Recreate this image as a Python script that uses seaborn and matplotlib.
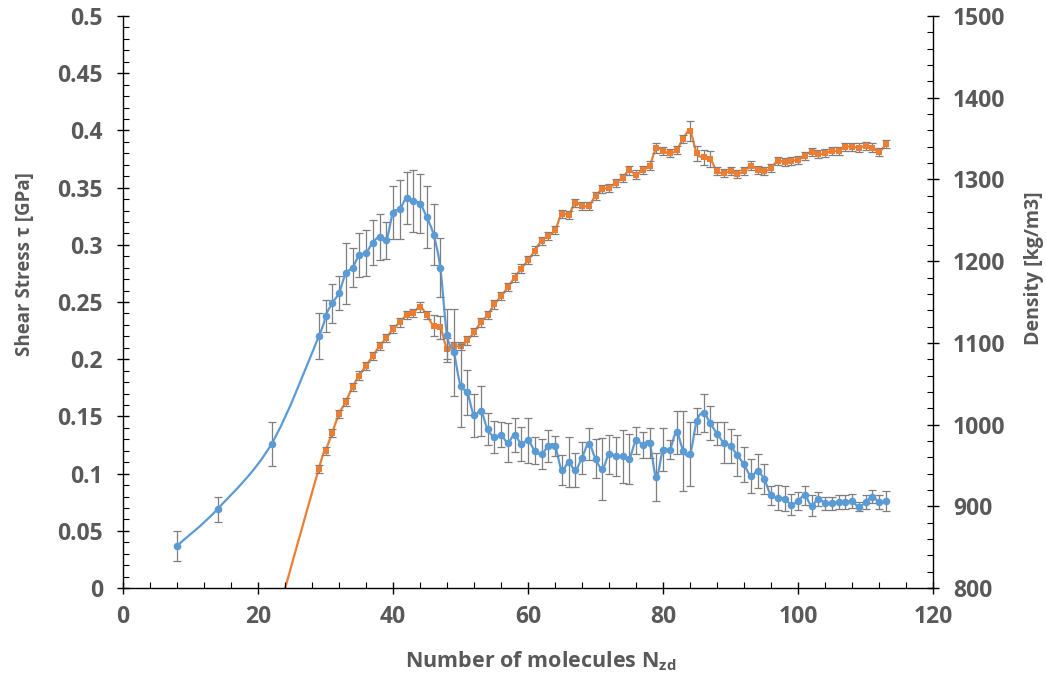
import numpy as np
import matplotlib
matplotlib.use("Agg")
import matplotlib.pyplot as plt
from matplotlib.path import Path
from matplotlib.patches import PathPatch
from matplotlib.ticker import MultipleLocator
import seaborn as sns

# Shear stress series (left axis)
n_stress = [8, 14, 22, 29, 30, 31, 32, 33, 34, 35, 36, 37, 38, 39, 40, 41, 42, 43, 44, 45,
            46, 47, 48, 49, 50, 51, 52, 53, 54, 55, 56, 57, 58, 59, 60, 61, 62, 63, 64, 65,
            66, 67, 68, 69, 70, 71, 72, 73, 74, 75, 76, 77, 78, 79, 80, 81, 82, 83, 84, 85,
            86, 87, 88, 89, 90, 91, 92, 93, 94, 95, 96, 97, 98, 99, 100, 101, 102, 103, 104,
            105, 106, 107, 108, 109, 110, 111, 112, 113]
stress = [0.037, 0.069, 0.126, 0.220, 0.238, 0.249, 0.258, 0.275, 0.280, 0.291, 0.293, 0.302,
          0.307, 0.304, 0.328, 0.331, 0.341, 0.338, 0.336, 0.324, 0.309, 0.280, 0.221, 0.206,
          0.177, 0.171, 0.151, 0.155, 0.139, 0.132, 0.134, 0.127, 0.134, 0.126, 0.129, 0.120,
          0.117, 0.124, 0.124, 0.103, 0.110, 0.103, 0.114, 0.126, 0.113, 0.104, 0.117, 0.115,
          0.115, 0.113, 0.129, 0.125, 0.127, 0.097, 0.121, 0.121, 0.136, 0.120, 0.117, 0.146,
          0.153, 0.144, 0.135, 0.127, 0.124, 0.116, 0.108, 0.098, 0.102, 0.095, 0.081, 0.079,
          0.078, 0.073, 0.076, 0.081, 0.072, 0.078, 0.074, 0.074, 0.075, 0.075, 0.076, 0.071,
          0.075, 0.080, 0.075, 0.076]
stress_err = [0.013, 0.011, 0.019, 0.020, 0.014, 0.017, 0.015, 0.027, 0.017, 0.019, 0.020, 0.020,
              0.020, 0.016, 0.023, 0.026, 0.023, 0.027, 0.026, 0.027, 0.027, 0.026, 0.023, 0.038,
              0.036, 0.020, 0.019, 0.022, 0.014, 0.014, 0.011, 0.017, 0.015, 0.015, 0.020, 0.012,
              0.013, 0.014, 0.009, 0.013, 0.022, 0.015, 0.014, 0.014, 0.017, 0.027, 0.017, 0.017,
              0.023, 0.022, 0.012, 0.011, 0.013, 0.021, 0.019, 0.008, 0.019, 0.035, 0.028, 0.011,
              0.017, 0.015, 0.010, 0.018, 0.015, 0.018, 0.015, 0.015, 0.015, 0.013, 0.008, 0.011,
              0.011, 0.009, 0.008, 0.008, 0.009, 0.006, 0.006, 0.006, 0.006, 0.006, 0.006, 0.004,
              0.006, 0.006, 0.006, 0.009]

# Density series (right axis)
n_dens = [22, 29, 30, 31, 32, 33, 34, 35, 36, 37, 38, 39, 40, 41, 42, 43, 44, 45,
          46, 47, 48, 49, 50, 51, 52, 53, 54, 55, 56, 57, 58, 59, 60, 61, 62, 63, 64, 65,
          66, 67, 68, 69, 70, 71, 72, 73, 74, 75, 76, 77, 78, 79, 80, 81, 82, 83, 84, 85,
          86, 87, 88, 89, 90, 91, 92, 93, 94, 95, 96, 97, 98, 99, 100, 101, 102, 103, 104,
          105, 106, 107, 108, 109, 110, 111, 112, 113]
density = [740, 946, 968, 990, 1013, 1028, 1046, 1060, 1072, 1084, 1096, 1106, 1117, 1125,
           1134, 1137, 1144, 1134, 1121, 1119, 1093, 1096, 1096, 1103, 1113, 1125, 1134, 1147,
           1157, 1168, 1180, 1191, 1201, 1213, 1225, 1231, 1238, 1258, 1257, 1271, 1268, 1268,
           1280, 1288, 1290, 1296, 1302, 1311, 1306, 1312, 1317, 1338, 1335, 1332, 1336, 1350,
           1359, 1332, 1327, 1325, 1310, 1308, 1310, 1307, 1310, 1317, 1312, 1310, 1314, 1323,
           1321, 1323, 1324, 1329, 1334, 1331, 1332, 1335, 1335, 1340, 1340, 1339, 1341, 1339,
           1334, 1343]
density_err = [5, 5, 5, 5, 5, 5, 5, 5, 5, 5, 5, 5, 5, 5, 5, 5, 6, 5, 13, 14, 13, 5, 5, 5,
               5, 5, 5, 5, 5, 5, 5, 5, 5, 5, 5, 5, 5, 5, 5, 5, 5, 5, 5, 5, 5, 5, 5, 6, 5, 5,
               5, 6, 5, 5, 5, 5, 12, 9, 9, 10, 5, 5, 5, 5, 5, 5, 5, 5, 5, 5, 5, 5, 5, 5, 5, 5,
               5, 5, 5, 5, 5, 5, 5, 5, 5, 5]

BLUE = "#5B9BD5"
ORANGE = "#ED7D31"
GREY_TXT = "#595959"
BAR = "#7F7F7F"

sns.set_theme(style="white")
plt.rcParams["font.family"] = ["Open Sans", "DejaVu Sans"]
plt.rcParams["font.weight"] = "bold"
plt.rcParams["mathtext.fontset"] = "custom"
plt.rcParams["mathtext.bf"] = "Open Sans:bold"
plt.rcParams["mathtext.default"] = "bf"


def smooth_path(x, y):
    # cubic Bezier through the points, like a smoothed line in a spreadsheet
    x = np.asarray(x, float)
    y = np.asarray(y, float)
    p = np.column_stack([x, y])
    verts = [p[0]]
    codes = [Path.MOVETO]
    n = len(p)
    for i in range(n - 1):
        p0 = p[i - 1] if i > 0 else p[i]
        p3 = p[i + 2] if i + 2 < n else p[i + 1]
        c1 = p[i] + (p[i + 1] - p0) / 6.0
        c2 = p[i + 1] - (p3 - p[i]) / 6.0
        verts += [c1, c2, p[i + 1]]
        codes += [Path.CURVE4] * 3
    return Path(verts, codes)


fig = plt.figure(figsize=(10.46, 6.82), dpi=100)
ax = fig.add_axes([0.1176, 0.1378, 0.7744, 0.8387])
ax2 = ax.twinx()

# density on right axis
ax2.add_patch(PathPatch(smooth_path(n_dens, density), facecolor="none",
                        edgecolor=ORANGE, lw=1.6, zorder=2))
ax2.errorbar(n_dens, density, yerr=density_err, fmt="none", ecolor=BAR,
             elinewidth=0.9, capsize=2.6, capthick=0.9, zorder=3)
sns.scatterplot(x=n_dens, y=density, ax=ax2, color=ORANGE, marker="s", s=22,
                edgecolor=ORANGE, linewidth=0, zorder=4)

# stress on left axis, drawn on top
ax2.patch.set_visible(False)
ax.set_zorder(ax2.get_zorder() + 1)
ax.patch.set_visible(False)
ax.add_patch(PathPatch(smooth_path(n_stress, stress), facecolor="none",
                       edgecolor=BLUE, lw=1.6, zorder=2))
ax.errorbar(n_stress, stress, yerr=stress_err, fmt="none", ecolor=BAR,
            elinewidth=0.9, capsize=2.6, capthick=0.9, zorder=3)
sns.scatterplot(x=n_stress, y=stress, ax=ax, color=BLUE, marker="o", s=30,
                edgecolor=BLUE, linewidth=0, zorder=4)

ax.set_xlim(0, 120)
ax.set_ylim(0, 0.5)
ax2.set_ylim(800, 1500)

ax.xaxis.set_major_locator(MultipleLocator(20))
ax.xaxis.set_minor_locator(MultipleLocator(4))
ax.yaxis.set_minor_locator(MultipleLocator(0.01))
ax2.yaxis.set_major_locator(MultipleLocator(100))
ax2.yaxis.set_minor_locator(MultipleLocator(20))
ax.set_yticks(np.arange(0, 0.51, 0.05))
ax.set_yticklabels(["0", "0.05", "0.1", "0.15", "0.2", "0.25", "0.3", "0.35", "0.4", "0.45", "0.5"])

for a in (ax, ax2):
    a.spines["top"].set_visible(False)
    for s in ("left", "right", "bottom"):
        a.spines[s].set_color("black")
        a.spines[s].set_linewidth(1.0)
ax.spines["right"].set_visible(False)
ax2.spines["left"].set_visible(False)
ax2.spines["bottom"].set_visible(False)

ax.tick_params(axis="both", which="major", direction="inout", length=9, width=1,
               color="black", labelsize=16.5, labelcolor=GREY_TXT)
ax.tick_params(axis="both", which="minor", direction="in", length=4.5, width=0.8, color="black")
ax.tick_params(axis="y", which="both", left=True, right=False, pad=10)
ax.tick_params(axis="x", which="both", bottom=True, top=False, pad=8)
ax2.tick_params(axis="y", which="major", direction="inout", length=9, width=1,
                color="black", labelsize=16.5, labelcolor=GREY_TXT, pad=10)
ax2.tick_params(axis="y", which="minor", direction="in", length=4.5, width=0.8, color="black")

ax.set_xlabel("Number of molecules N$_{zd}$", fontsize=15.5, color=GREY_TXT, fontweight="bold")
ax.set_ylabel("Shear Stress τ [GPa]", fontsize=13.5, color=GREY_TXT, fontweight="bold")
ax2.set_ylabel("Density [kg/m3]", fontsize=14, color=GREY_TXT, fontweight="bold")
ax.xaxis.set_label_coords(0.515, -0.108)
ax.yaxis.set_label_coords(-0.1086, 0.566)
ax2.yaxis.set_label_coords(1.1125, 0.559)

fig.savefig("out.png", dpi=100)
